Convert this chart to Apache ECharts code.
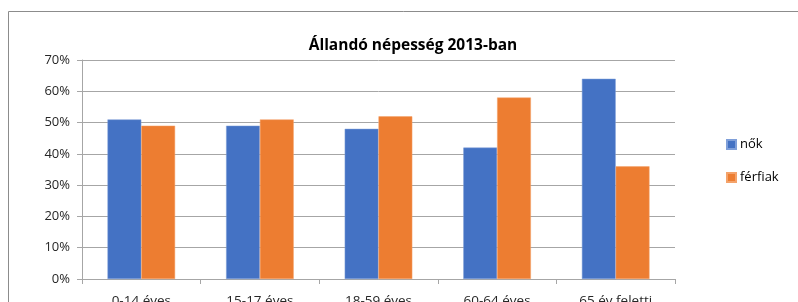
<!DOCTYPE html>
<html>
<head>
<meta charset="utf-8">
<script src="https://cdn.jsdelivr.net/npm/echarts@6/dist/echarts.min.js"></script>
<style>
  html, body { margin: 0; padding: 0; background: #fff; }
  #main { width: 798px; height: 302px; }
</style>
</head>
<body>
<div id="main"></div>
<script>
// adatok
var categories = ['0-14 éves', '15-17 éves', '18-59 éves', '60-64 éves', '65 év feletti'];
var nok = [51, 49, 48, 42, 64];
var ferfiak = [49, 51, 52, 58, 36];
var seriesNames = ['nők', 'férfiak'];

var chart = echarts.init(document.getElementById('main'));
var font = 'Open Sans';

var option = {
  animation: false,
  graphic: [{
    type: 'rect',
    shape: { x: 8.5, y: 11.5, width: 820, height: 320 },
    style: { fill: null, stroke: '#8c8c8c', lineWidth: 1 }
  }],
  title: {
    text: 'Állandó népesség 2013-ban',
    left: 408, top: 33, textAlign: 'center',
    textStyle: { fontFamily: font, fontSize: 15.5, fontWeight: 'bold', color: '#000' }
  },
  legend: {
    orient: 'vertical',
    left: 721, top: 133,
    itemGap: 20,
    itemWidth: 9, itemHeight: 9,
    icon: 'rect',
    data: seriesNames,
    textStyle: { fontFamily: font, fontSize: 13, color: '#000', padding: [0, 0, 0, -1] }
  },
  grid: { left: 82, top: 60, width: 593, height: 219, containLabel: false, outerBoundsMode: 'none' },
  xAxis: {
    type: 'category',
    data: categories,
    axisLine: { lineStyle: { color: '#a6a6a6' } },
    axisTick: { show: true, length: 5, lineStyle: { color: '#a6a6a6' } },
    axisLabel: { fontFamily: font, fontSize: 13.5, color: '#262626', margin: 15 }
  },
  yAxis: {
    type: 'value',
    min: 0, max: 70, interval: 10,
    axisLine: { show: true, lineStyle: { color: '#a6a6a6' } },
    axisTick: { show: true, length: 5, lineStyle: { color: '#a6a6a6' } },
    splitLine: { lineStyle: { color: '#a6a6a6' } },
    axisLabel: { fontFamily: font, fontSize: 13, color: '#262626', margin: 12, formatter: '{value}%' }
  },
  series: [
    {
      name: seriesNames[0], type: 'bar', data: nok,
      barGap: '0%', barCategoryGap: '43%',
      itemStyle: { color: '#4472C4', borderColor: '#7f9fd9', borderWidth: 0.5 }
    },
    {
      name: seriesNames[1], type: 'bar', data: ferfiak,
      itemStyle: { color: '#ED7D31', borderColor: '#f4a36b', borderWidth: 0.5 }
    }
  ]
};

chart.setOption(option);
</script>
</body>
</html>
